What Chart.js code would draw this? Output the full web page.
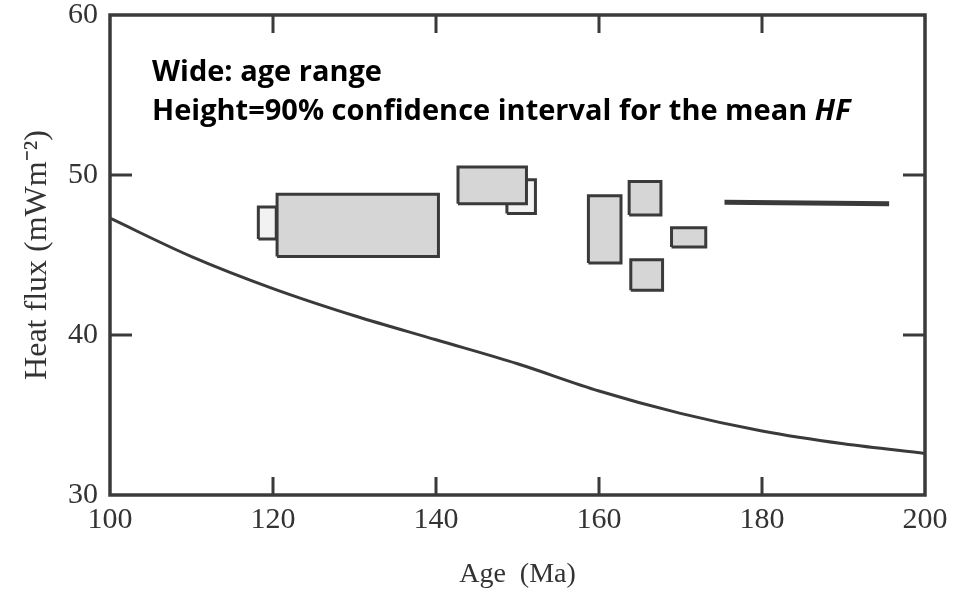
<!DOCTYPE html>
<html>
<head>
<meta charset="utf-8">
<script src="https://cdn.jsdelivr.net/npm/chart.js@4.4.1/dist/chart.umd.min.js"></script>
<style>
  body { margin: 0; background: #fff; }
  #wrap { width: 963px; height: 603px; }
</style>
</head>
<body>
<div id="wrap"><canvas id="myChart"></canvas></div>
<script>
// heat flow vs age curve
const curveAge = [100, 110, 120, 130, 140, 150, 160, 170, 180, 190, 200];
const curveHF = [47.3, 44.9, 42.9, 41.2, 39.7, 38.2, 36.5, 35.1, 34.0, 33.2, 32.6];

// boxes: age range (x) and 90% confidence interval of mean HF (y)
const boxAgeFrom = [118.2, 120.5, 148.7, 142.7, 158.7, 163.7, 168.9, 163.9];
const boxAgeTo   = [120.4, 140.3, 152.2, 151.1, 162.7, 167.6, 173.1, 167.8];
const boxHFLow   = [46.0, 44.9, 47.6, 48.2, 44.5, 47.5, 45.5, 42.8];
const boxHFHigh  = [48.0, 48.8, 49.7, 50.5, 48.7, 49.6, 46.7, 44.7];
const boxBehind  = [true, false, true, false, false, false, false, false];

// the flat bar on the right
const barAge = [175.4, 195.6];
const barHF = [48.3, 48.2];

const xTicks = [100, 120, 140, 160, 180, 200];
const yTicks = [30, 40, 50, 60];

const ink = '#3a3a3a';

let datasets = [];
datasets.push({
    label: 'curve',
    data: curveAge.map((a, i) => ({x: a, y: curveHF[i]})),
    showLine: true,
    borderColor: ink,
    borderWidth: 3,
    pointRadius: 0,
    cubicInterpolationMode: 'monotone',
    fill: false,
    order: 0
});
datasets.push({
    label: 'bar',
    data: barAge.map((a, i) => ({x: a, y: barHF[i]})),
    showLine: true,
    borderColor: ink,
    borderWidth: 5,
    pointRadius: 0,
    fill: false,
    order: 0
});
for (let i = 0; i < boxAgeFrom.length; i++) {
    let x0 = boxAgeFrom[i], x1 = boxAgeTo[i], y0 = boxHFLow[i], y1 = boxHFHigh[i];
    datasets.push({
        label: 'box' + i,
        data: [{x: x0, y: y0}, {x: x1, y: y0}, {x: x1, y: y1}, {x: x0, y: y1}, {x: x0, y: y0}],
        showLine: true,
        borderColor: ink,
        borderWidth: 3,
        borderJoinStyle: 'miter',
        backgroundColor: boxBehind[i] ? '#f2f2f2' : '#d6d6d6',
        pointRadius: 0,
        fill: 'shape',
        order: boxBehind[i] ? 2 : 1
    });
}

// frame, inward tick marks and the note text
const frameAndNotes = {
    id: 'frameAndNotes',
    afterDatasetsDraw(chart) {
        const ctx = chart.ctx;
        const a = chart.chartArea;
        const xs = chart.scales.x, ys = chart.scales.y;
        ctx.save();
        ctx.strokeStyle = ink;
        ctx.lineWidth = 3.5;
        ctx.strokeRect(a.left, a.top, a.right - a.left, a.bottom - a.top);
        ctx.lineWidth = 3;
        ctx.beginPath();
        xTicks.slice(1, -1).forEach(v => {
            let px = xs.getPixelForValue(v);
            ctx.moveTo(px, a.bottom); ctx.lineTo(px, a.bottom - 18);
            ctx.moveTo(px, a.top); ctx.lineTo(px, a.top + 18);
        });
        yTicks.slice(1, -1).forEach(v => {
            let py = ys.getPixelForValue(v);
            ctx.moveTo(a.left, py); ctx.lineTo(a.left + 22, py);
            ctx.moveTo(a.right, py); ctx.lineTo(a.right - 22, py);
        });
        ctx.stroke();

        ctx.fillStyle = '#000';
        ctx.textBaseline = 'alphabetic';
        ctx.font = 'bold 29px "Open Sans"';
        ctx.fillText('Wide: age range', 152, 81);
        let line2 = 'Height=90% confidence interval for the mean ';
        ctx.fillText(line2, 152, 120);
        let w = ctx.measureText(line2).width;
        ctx.font = 'italic bold 29px "Open Sans"';
        ctx.fillText('HF', 152 + w, 120);
        ctx.restore();
    }
};

const ctx = document.getElementById('myChart').getContext('2d');
const chart = new Chart(ctx, {
    type: 'scatter',
    data: { datasets: datasets },
    options: {
        responsive: true,
        maintainAspectRatio: false,
        animation: false,
        layout: { padding: { top: 15, right: 38, bottom: 0, left: 0 } },
        plugins: {
            legend: { display: false },
            tooltip: { enabled: false },
            filler: { drawTime: 'beforeDatasetDraw' }
        },
        scales: {
            x: {
                type: 'linear',
                min: 100,
                max: 200,
                afterBuildTicks: (scale) => { scale.ticks = xTicks.map(v => ({value: v})); },
                afterFit: (scale) => { scale.height = 108; },
                grid: { display: false, drawTicks: false },
                border: { display: false },
                ticks: {
                    color: '#333',
                    padding: 10,
                    maxRotation: 0,
                    font: { family: '"Liberation Serif"', size: 30, lineHeight: 1 }
                },
                title: {
                    display: true,
                    text: 'Age  (Ma)',
                    color: '#333',
                    padding: { top: 0, bottom: 12 },
                    font: { family: '"Liberation Serif"', size: 28 }
                }
            },
            y: {
                min: 30,
                max: 60,
                afterBuildTicks: (scale) => { scale.ticks = yTicks.map(v => ({value: v})); },
                afterFit: (scale) => {
                    scale.width = 110;
                    scale.paddingTop = 0;
                    scale.paddingBottom = 0;
                },
                grid: { display: false, drawTicks: false },
                border: { display: false },
                ticks: {
                    color: '#333',
                    padding: 12,
                    font: { family: '"Liberation Serif"', size: 30, lineHeight: 1 }
                },
                title: {
                    display: true,
                    text: 'Heat flux (mWm⁻²)',
                    color: '#333',
                    padding: { top: 18, bottom: 0 },
                    font: { family: '"Liberation Serif"', size: 32 }
                }
            }
        }
    },
    plugins: [frameAndNotes]
});
</script>
</body>
</html>
